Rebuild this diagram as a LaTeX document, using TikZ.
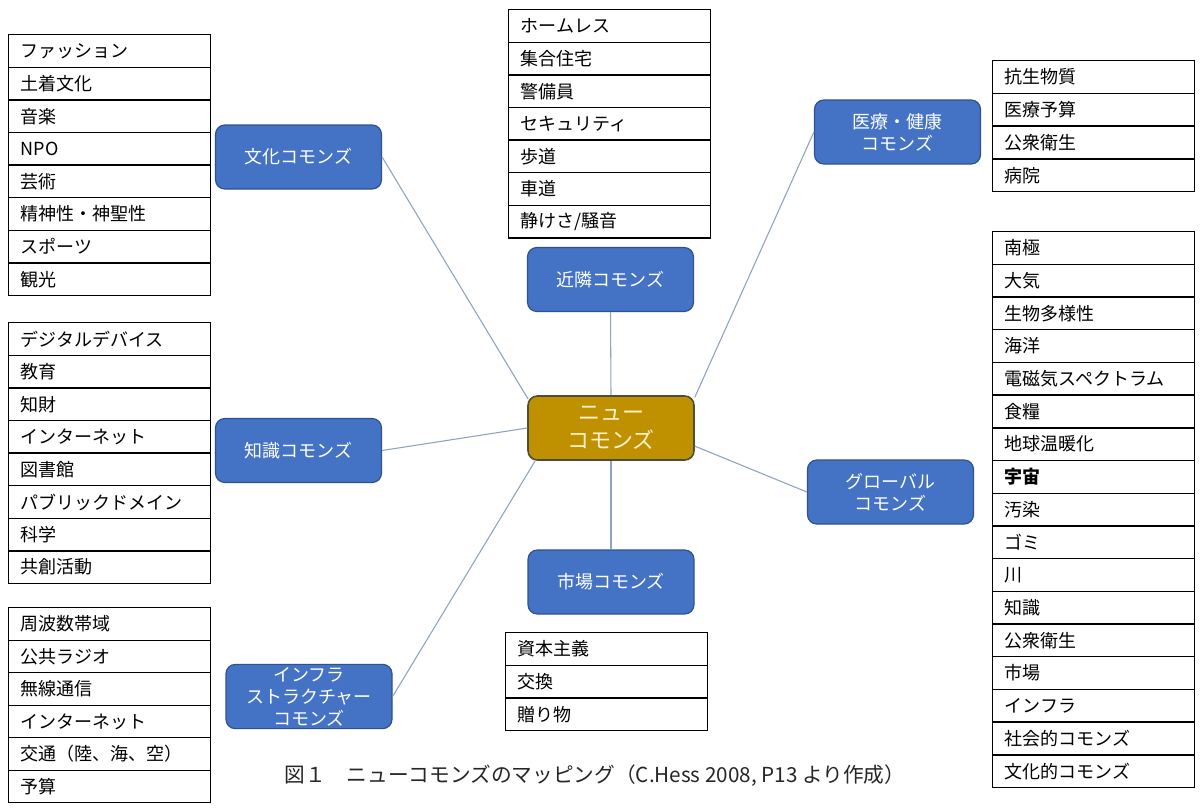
\documentclass[tikz,border=0pt]{standalone}
\usepackage{fontspec}
\setmainfont{Noto Sans CJK JP}
\definecolor{boxblue}{HTML}{4472C4}
\definecolor{boxblueline}{HTML}{2F528F}
\definecolor{gold}{HTML}{BF9000}
\definecolor{goldline}{HTML}{4D4D3A}
\definecolor{goldtext}{HTML}{FFF2CC}
\definecolor{linkc}{HTML}{8EA3BF}
\tikzset{
  cell/.style={draw=black, line width=1pt, text width=133.5pt, inner xsep=9pt, inner ysep=0pt,
    minimum height=24.45pt, align=left, anchor=north west, font=\fontsize{13.5}{16}\selectfont},
  bluebox/.style={draw=boxblueline, fill=boxblue, line width=0.9pt, rounded corners=7pt,
    text=white, minimum width=124.5pt, minimum height=48pt, align=center, inner sep=2pt,
    font=\fontsize{13.5}{16.5}\selectfont},
  hub/.style={draw=goldline, fill=gold, line width=1.2pt, rounded corners=7pt,
    text=goldtext, minimum width=124.5pt, minimum height=48pt, align=center, inner sep=2pt,
    font=\fontsize{16.5}{21}\selectfont},
  link/.style={draw=linkc, line width=0.8pt}
}
\begin{document}
\begin{tikzpicture}[x=0.75pt,y=-0.75pt]
\useasboundingbox[fill=white] (0,0) rectangle (1200,811);
% tables
\foreach \t [count=\i from 0] in {ファッション,土着文化,音楽,NPO,芸術,精神性・神聖性,スポーツ,観光}
  \node[cell] (ta\i) at (8,{34+32.6*\i}) {\t};
\foreach \t [count=\i from 0] in {デジタルデバイス,教育,知財,インターネット,図書館,パブリックドメイン,科学,共創活動}
  \node[cell] (tb\i) at (8,{322+32.6*\i}) {\t};
\foreach \t [count=\i from 0] in {周波数帯域,公共ラジオ,無線通信,インターネット,交通（陸、海、空）,予算}
  \node[cell] (tc\i) at (8,{607+32.5*\i}) {\t};
\foreach \t [count=\i from 0] in {ホームレス,集合住宅,警備員,セキュリティ,歩道,車道,静けさ/騒音}
  \node[cell] (td\i) at (508,{9+32.6*\i}) {\t};
\foreach \t [count=\i from 0] in {抗生物質,医療予算,公衆衛生,病院}
  \node[cell] (te\i) at (992,{60+32.75*\i}) {\t};
\foreach \t [count=\i from 0] in {南極,大気,生物多様性,海洋,電磁気スペクトラム,食糧,地球温暖化,{\bfseries 宇宙},汚染,ゴミ,川,知識,公衆衛生,市場,インフラ,社会的コモンズ,文化的コモンズ}
  \node[cell] (tf\i) at (992,{231+32.7*\i}) {\t};
\foreach \t [count=\i from 0] in {資本主義,交換,贈り物}
  \node[cell] (tg\i) at (505,{632+32.7*\i}) {\t};
% boxes
\node[hub] (center) at (611,428) {ニュー\\コモンズ};
\node[bluebox] (bunka) at (298.5,157) {文化コモンズ};
\node[bluebox] (chishiki) at (298.5,450.5) {知識コモンズ};
\node[bluebox] (infra) at (309,696.5) {インフラ\\ストラクチャー\\コモンズ};
\node[bluebox] (kinrin) at (610.5,279.5) {近隣コモンズ};
\node[bluebox] (shijo) at (611,582) {市場コモンズ};
\node[bluebox] (iryo) at (897.5,132) {医療・健康\\コモンズ};
\node[bluebox] (global) at (890.5,492) {グローバル\\コモンズ};
% links
\draw[link] (bunka.east) -- ([xshift=0.75pt,yshift=-3pt]center.north west);
\draw[link] (chishiki.east) -- (center.west);
\draw[link] (infra.east) -- ([xshift=6pt]center.south west);
\draw[link] (kinrin.south) -- (center.north);
\draw[link] (center.south) -- (shijo.north);
\draw[link] (iryo.west) -- ([yshift=-1.5pt]center.north east);
\draw[link] ([yshift=11pt]center.south east) -- (global.west);
% caption
\node[font=\fontsize{15.5}{18}\selectfont, text=black!85] (cap) at (595,776) {図１　ニューコモンズのマッピング（C.Hess 2008, P13 より作成）};
\end{tikzpicture}
\end{document}
